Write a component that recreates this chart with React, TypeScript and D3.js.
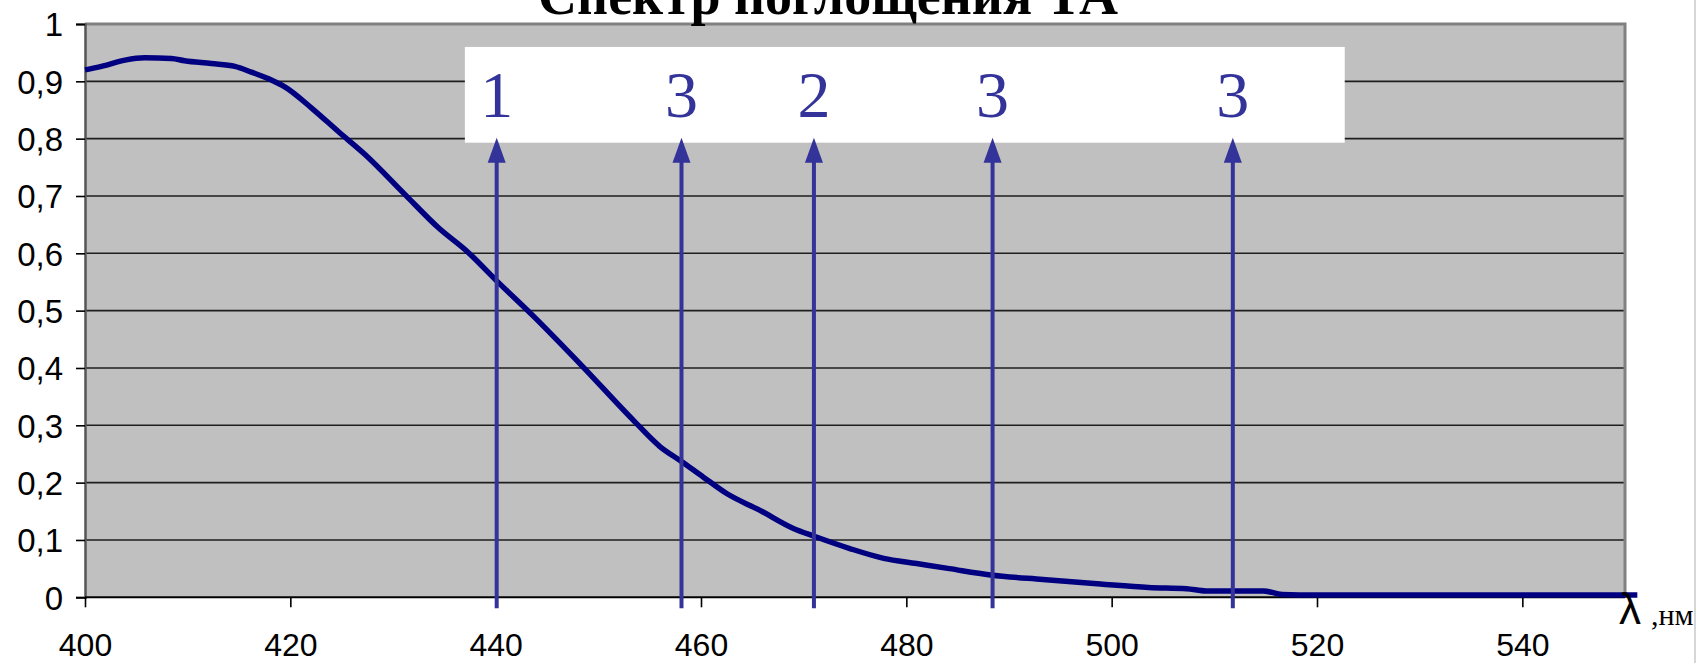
import { useEffect, useRef } from "react";
import * as d3 from "d3";

// absorption spectrum
const wavelength = [
  400, 401.6, 403.9, 405.8, 408.4, 409.7, 412.3, 414.6, 416.2, 418.2, 419.5,
  422.1, 424.7, 427.3, 431.2, 434.4, 437.3, 440.1, 443.7, 448.5, 453.4, 456.0,
  458.1, 460.2, 462.5, 465.7, 469.0, 471.1, 474.5, 477.8, 481.0, 484.2, 488.2,
  493.3, 498.9, 503.6, 507.3, 509.2, 514.8, 516.6, 520, 530, 540, 551.2,
];
const absorbance = [
  0.92, 0.926, 0.937, 0.941, 0.94, 0.936, 0.931, 0.926, 0.916, 0.902, 0.89,
  0.853, 0.812, 0.772, 0.702, 0.645, 0.602, 0.552, 0.49, 0.402, 0.309, 0.263,
  0.237, 0.21, 0.181, 0.152, 0.12, 0.106, 0.085, 0.068, 0.059, 0.05, 0.039,
  0.031, 0.023, 0.017, 0.015, 0.011, 0.011, 0.005, 0.004, 0.004, 0.004, 0.004,
];

// arrows (laser lines) and their labels
const arrowWavelength = [440.1, 458.1, 471.0, 488.4, 511.8];
const arrowLabel = ["1", "3", "2", "3", "3"];

const xTicks = [400, 420, 440, 460, 480, 500, 520, 540];
const yTicks = [0, 0.1, 0.2, 0.3, 0.4, 0.5, 0.6, 0.7, 0.8, 0.9, 1];

const title = "Спектр поглощения ТА";

export default function App() {
  const svgRef = useRef<SVGSVGElement>(null);

  const dims = {
    width: 1705,
    height: 663,
    left: 85,
    right: 1625,
    top: 24,
    bottom: 597.3,
  };

  useEffect(() => {
    const svg = d3.select(svgRef.current);
    svg.selectAll("*").remove();

    const x = d3.scaleLinear().domain([400, 550]).range([dims.left, dims.right]);
    const y = d3.scaleLinear().domain([0, 1]).range([dims.bottom, dims.top]);

    svg
      .append("rect")
      .attr("width", dims.width)
      .attr("height", dims.height)
      .attr("fill", "white");

    // frame line at the far right
    svg
      .append("line")
      .attr("x1", 1695)
      .attr("x2", 1695)
      .attr("y1", 0)
      .attr("y2", dims.height)
      .attr("stroke", "#c8c8c8")
      .attr("stroke-width", 1.5);

    // plot area
    svg
      .append("rect")
      .attr("x", dims.left)
      .attr("y", dims.top)
      .attr("width", dims.right - dims.left)
      .attr("height", dims.bottom - dims.top)
      .attr("fill", "#c0c0c0");

    // grid lines
    svg
      .append("g")
      .selectAll("line")
      .data(yTicks.filter((t) => t > 0 && t < 1))
      .enter()
      .append("line")
      .attr("x1", dims.left)
      .attr("x2", dims.right)
      .attr("y1", (d) => y(d))
      .attr("y2", (d) => y(d))
      .attr("stroke", "#1e1e1e")
      .attr("stroke-width", 1.6);

    // top and right border
    svg
      .append("path")
      .attr("d", `M${dims.left},${dims.top}H${dims.right}V${dims.bottom}`)
      .attr("fill", "none")
      .attr("stroke", "#808080")
      .attr("stroke-width", 3);

    // y axis
    const yAxis = d3
      .axisLeft(y)
      .tickValues(yTicks)
      .tickSize(9)
      .tickPadding(13)
      .tickFormat((d) => d3.format(".1~f")(d as number).replace(".", ","));
    const yg = svg
      .append("g")
      .attr("transform", `translate(${dims.left},0)`)
      .call(yAxis);
    yg.select(".domain").attr("stroke", "#555").attr("stroke-width", 2.5);
    yg.selectAll(".tick line").attr("stroke", "#000").attr("stroke-width", 1.6);
    yg.selectAll(".tick text")
      .attr("font-family", "Liberation Sans, Arial, sans-serif")
      .attr("font-size", 33)
      .attr("fill", "#000")
      .attr("dy", "0.36em");

    // x axis
    const xAxis = d3
      .axisBottom(x)
      .tickValues(xTicks)
      .tickSize(10)
      .tickPadding(26)
      .tickFormat((d) => String(d));
    const xg = svg
      .append("g")
      .attr("transform", `translate(0,${dims.bottom})`)
      .call(xAxis);
    xg.select(".domain")
      .attr("d", `M${dims.left},0H${dims.right}`)
      .attr("stroke", "#000")
      .attr("stroke-width", 2);
    xg.selectAll(".tick line").attr("stroke", "#000").attr("stroke-width", 1.6);
    xg.selectAll(".tick text")
      .attr("font-family", "Liberation Sans, Arial, sans-serif")
      .attr("font-size", 32)
      .attr("fill", "#000")
      .attr("dy", "0.71em");

    // white label box
    const boxL = x(437);
    const boxR = x(522.7);
    const boxT = y(0.96);
    const boxB = y(0.793);
    svg
      .append("rect")
      .attr("x", boxL)
      .attr("y", boxT)
      .attr("width", boxR - boxL)
      .attr("height", boxB - boxT)
      .attr("fill", "white");

    // spectrum curve
    const pts: [number, number][] = wavelength.map((w, i) => [w, absorbance[i]]);
    const line = d3
      .line<[number, number]>()
      .x((d) => x(d[0]))
      .y((d) => y(d[1]))
      .curve(d3.curveMonotoneX);
    svg
      .append("path")
      .attr("d", line(pts))
      .attr("fill", "none")
      .attr("stroke", "#000080")
      .attr("stroke-width", 5.5)
      .attr("stroke-linejoin", "round");

    // arrows
    const arrowColor = "#333399";
    const tipY = boxB - 5;
    const headLen = 25;
    const headHalf = 9;
    const ag = svg.append("g");
    arrowWavelength.forEach((w, i) => {
      const ax = x(w);
      ag.append("line")
        .attr("x1", ax)
        .attr("x2", ax)
        .attr("y1", dims.bottom + 11)
        .attr("y2", tipY + headLen - 2)
        .attr("stroke", arrowColor)
        .attr("stroke-width", 4);
      ag.append("path")
        .attr(
          "d",
          `M${ax},${tipY}L${ax + headHalf},${tipY + headLen}L${ax - headHalf},${tipY + headLen}Z`,
        )
        .attr("fill", arrowColor);
      ag.append("text")
        .attr("x", ax)
        .attr("y", 117.3)
        .attr("text-anchor", "middle")
        .attr("font-family", "Liberation Serif, Times New Roman, serif")
        .attr("font-size", 66)
        .attr("fill", arrowColor)
        .text(arrowLabel[i]);
    });

    // title (partly cut off at the top, as in the source)
    svg
      .append("text")
      .attr("x", 828)
      .attr("y", 14)
      .attr("text-anchor", "middle")
      .attr("font-family", "Liberation Serif, Times New Roman, serif")
      .attr("font-weight", "bold")
      .attr("font-size", 54)
      .attr("fill", "#000")
      .text(title);

    // axis unit
    svg
      .append("text")
      .attr("x", 1619)
      .attr("y", 624)
      .attr("font-family", "Liberation Sans, Arial, sans-serif")
      .attr("font-size", 44)
      .attr("fill", "#000")
      .text("λ");
    svg
      .append("text")
      .attr("x", 1651)
      .attr("y", 625)
      .attr("font-family", "Liberation Serif, Times New Roman, serif")
      .attr("font-size", 30)
      .attr("fill", "#000")
      .text(",нм");
  }, []);

  return (
    <svg
      ref={svgRef}
      width={dims.width}
      height={dims.height}
      style={{ position: "absolute", left: 0, top: 0 }}
    ></svg>
  );
}
